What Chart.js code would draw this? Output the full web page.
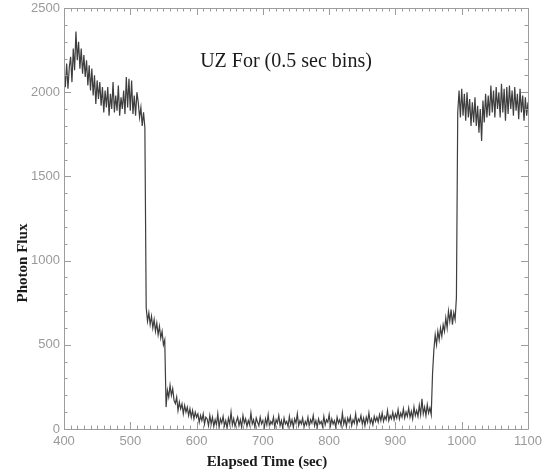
<!DOCTYPE html>
<html>
<head>
<meta charset="utf-8">
<script src="https://cdn.jsdelivr.net/npm/chart.js@4.4.0/dist/chart.umd.min.js"></script>
<style>
  html, body { margin: 0; padding: 0; background: #fff; }
</style>
</head>
<body>
<canvas id="lightCurve" width="542" height="473"></canvas>
<script>
// light curve samples, one every BIN seconds starting at T0
const T0 = 400;
const BIN = 2;
const flux = [
  2140, 2030, 2170, 2020, 2150, 2210, 2060, 2260, 2130, 2360, // 400
  2190, 2300, 2140, 2260, 2110, 2220, 2090, 2190, 2040, 2160, // 420
  2010, 2140, 1980, 2100, 1930, 2070, 1960, 2060, 1920, 2030, // 440
  1880, 2010, 1910, 2030, 1860, 1990, 1900, 2060, 1880, 1980, // 460
  1890, 2040, 1860, 1970, 1900, 2010, 1870, 2090, 1910, 2080, // 480
  1890, 2070, 1870, 1980, 1860, 2000, 1940, 1850, 1910, 1800, // 500
  1880, 1790,  720,  640,  690,  620,  670,  600,  650,  580, // 520
   630,  560,  610,  540,  580,  500,  530,  130,  230,  190, // 540
   260,  200,  240,  170,  150,  190,  110,  160,  120,  150, // 560
    90,  140,  100,  130,   80,  120,   70,  110,   60,  100, // 580
    70,   90,   40,   80,   50,   90,   30,   70,   60,   20, // 600
    80,   30,   70,   15,   55,   25,   90,   10,   60,   35, // 620
    75,   20,   50,    5,   65,   30,  100,   25,   60,   15, // 640
    45,   70,   20,   55,   10,   80,   35,   60,   15,   50, // 660
    25,   95,   30,   55,   10,   65,   40,   20,   70,   30, // 680
    50,    5,   60,   25,   85,   15,   45,   30,   70,   10, // 700
    55,   35,   80,   20,   50,    5,   65,   30,   45,   15, // 720
    75,   25,   55,   10,   60,   35,   90,   20,   50,   30, // 740
    65,   10,   45,   25,   70,   15,   55,   35,   80,   20, // 760
    50,   10,   60,   30,   45,   15,   75,   25,   55,   40, // 780
    85,   20,   60,   30,   50,   10,   70,   35,   55,   20, // 800
    95,   30,   60,   15,   65,   40,   75,   20,   55,   35, // 820
    90,   25,   60,   45,   80,   30,   65,   20,   70,   40, // 840
    95,   35,   60,   25,   75,   45,   70,   40,   85,   50, // 860
    95,   45,   75,   55,  110,   50,   80,   60,  100,   55, // 880
    90,   65,  115,   60,   95,   70,  120,   65,  100,   75, // 900
   125,   70,  105,   60,  130,   80,  110,   75,  140,   85, // 920
   180,   90,  130,   80,  145,   95,  125,   85,  330,  470, // 940
   560,  500,  580,  530,  600,  550,  620,  580,  660,  600, // 960
   700,  640,  710,  620,  690,  650,  780, 1880, 2010, 1850, // 980
  2020, 1860, 1990, 1830, 2000, 1850, 1960, 1800, 1940, 1820, // 1000
  1970, 1800, 1920, 1760, 1900, 1710, 1950, 1820, 1990, 1850, // 1020
  1980, 1860, 2040, 1880, 2010, 1850, 2030, 1900, 2000, 1850, // 1040
  2050, 1880, 2020, 1830, 2030, 1870, 2040, 1900, 2010, 1860, // 1060
  2030, 1890, 1990, 1840, 2020, 1880, 1980, 1830, 1970, 1860, // 1080
  1940                                                        // 1100
];

const xTicks = [400, 500, 600, 700, 800, 900, 1000, 1100];
const yTicks = [0, 500, 1000, 1500, 2000, 2500];
const X_MINOR = 10;
const Y_MINOR = 100;

const points = flux.map((v, i) => ({ x: T0 + i * BIN, y: v }));

// boxed frame with inward ticks on all four sides, plus the text labels
const framePlugin = {
    id: 'frame',
    afterDatasetsDraw(chart) {
        const { ctx, chartArea: a, scales: { x, y } } = chart;
        ctx.save();
        ctx.strokeStyle = '#9c9c9c';
        ctx.lineWidth = 1;
        ctx.beginPath();
        ctx.rect(a.left + 0.5, a.top + 0.5, a.right - a.left, a.bottom - a.top);
        for (let v = x.min; v <= x.max; v += X_MINOR) {
            const px = Math.round(x.getPixelForValue(v)) + 0.5;
            const len = v % 100 === 0 ? 7 : 3.5;
            ctx.moveTo(px, a.bottom); ctx.lineTo(px, a.bottom - len);
            ctx.moveTo(px, a.top); ctx.lineTo(px, a.top + len);
        }
        for (let v = y.min; v <= y.max; v += Y_MINOR) {
            const py = Math.round(y.getPixelForValue(v)) + 0.5;
            const len = v % 500 === 0 ? 7 : 3.5;
            ctx.moveTo(a.left, py); ctx.lineTo(a.left + len, py);
            ctx.moveTo(a.right, py); ctx.lineTo(a.right - len, py);
        }
        ctx.stroke();

        ctx.fillStyle = '#1a1a1a';
        ctx.textAlign = 'center';
        ctx.textBaseline = 'middle';
        ctx.font = '20px "Liberation Serif"';
        ctx.fillText('UZ For (0.5 sec bins)', 286, 62);

        ctx.font = 'bold 15px "Liberation Serif"';
        ctx.fillText('Elapsed Time (sec)', 267, 462);

        ctx.translate(23, 263);
        ctx.rotate(-Math.PI / 2);
        ctx.fillText('Photon Flux', 0, 0);
        ctx.restore();
    }
};

const ctx = document.getElementById('lightCurve').getContext('2d');
new Chart(ctx, {
    type: 'line',
    data: {
        datasets: [{
            data: points,
            borderColor: '#3e3e3e',
            borderWidth: 1.2,
            pointRadius: 0,
            tension: 0
        }]
    },
    options: {
        responsive: false,
        devicePixelRatio: 1,
        animation: false,
        layout: { padding: { left: 0, right: 14, top: 8, bottom: 0 } },
        plugins: {
            legend: { display: false },
            tooltip: { enabled: false }
        },
        scales: {
            x: {
                type: 'linear',
                min: 400,
                max: 1100,
                afterBuildTicks: s => { s.ticks = xTicks.map(v => ({ value: v })); },
                afterFit: s => { s.height = 44; s.paddingLeft = 0; s.paddingRight = 0; },
                grid: { display: false, drawTicks: false },
                border: { display: false },
                ticks: {
                    padding: 5,
                    color: '#9a9a9a',
                    font: { family: 'Liberation Sans', size: 13 },
                    maxRotation: 0,
                    callback: v => String(v)
                }
            },
            y: {
                min: 0,
                max: 2500,
                afterBuildTicks: s => { s.ticks = yTicks.map(v => ({ value: v })); },
                afterFit: s => { s.width = 64; s.paddingTop = 0; s.paddingBottom = 0; },
                grid: { display: false, drawTicks: false },
                border: { display: false },
                ticks: {
                    padding: 4,
                    color: '#9a9a9a',
                    font: { family: 'Liberation Sans', size: 13 },
                    callback: v => String(v)
                }
            }
        }
    },
    plugins: [framePlugin]
});
</script>
</body>
</html>
